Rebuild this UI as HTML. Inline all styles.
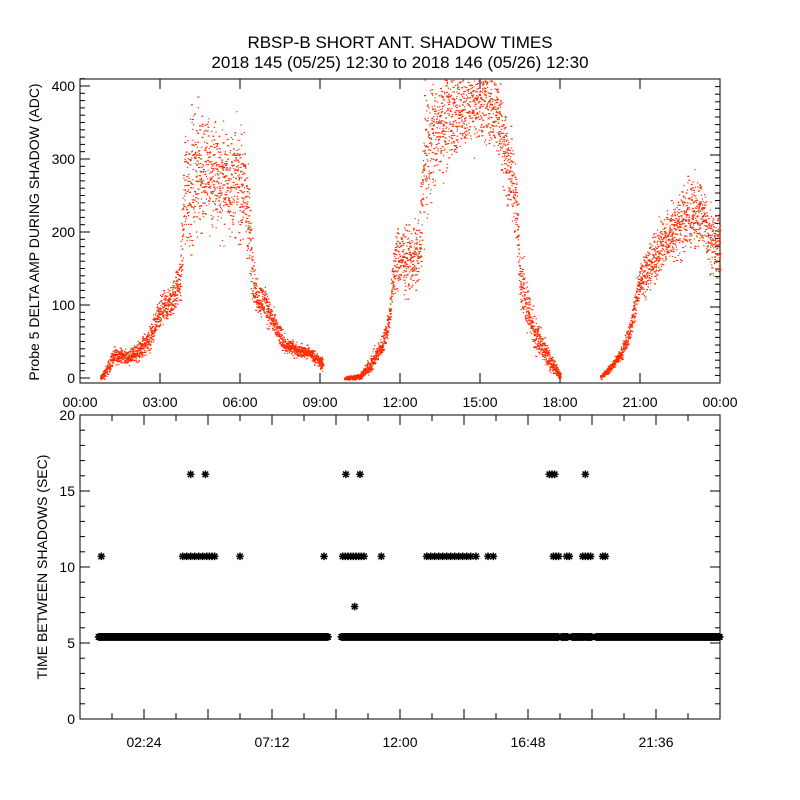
<!DOCTYPE html>
<html><head><meta charset="utf-8"><style>
body{margin:0;background:#fff}
svg{display:block;font-family:"Liberation Sans",sans-serif}
text{fill:#000}
</style></head><body>
<svg id="chart" width="800" height="800" viewBox="0 0 800 800">
<rect width="800" height="800" fill="#fff"/>
<text x="400" y="48" font-size="17" text-anchor="middle">RBSP-B SHORT ANT. SHADOW TIMES</text>
<text x="400" y="68" font-size="17" text-anchor="middle">2018 145 (05/25) 12:30 to 2018 146 (05/26) 12:30</text>
<g id="topPanel"></g>
<g id="botPanel"></g>
</svg>
<script>
// ---- top panel data (hours, ADC center, ADC spread) ----
const seg1Hours=[0.75,1.0,1.2,1.5,1.8,2.2,2.6,3.0,3.4,3.75,3.9,4.3,4.7,5.1,5.5,5.9,6.2,6.4,6.6,6.9,7.3,7.7,8.2,8.6,9.1];
const seg1Center=[0,12,28,32,28,38,55,90,105,135,260,280,285,275,270,270,250,170,110,105,70,45,38,35,18];
const seg1Spread=[3,6,8,6,6,10,12,15,15,20,60,60,60,55,45,50,60,40,15,15,12,8,6,6,6];
const seg2Hours=[9.9,10.5,10.9,11.3,11.55,11.8,12.4,12.7,12.9,13.2,13.8,14.4,15.0,15.6,16.0,16.3,16.5,16.7,17.0,17.4,17.8,18.0];
const seg2Center=[0,3,20,45,75,160,165,170,300,340,360,375,385,370,300,250,140,110,65,35,12,3];
const seg2Spread=[2,3,8,10,12,30,30,35,60,55,45,45,40,40,40,40,25,25,18,12,6,2];
const seg3Hours=[19.5,19.9,20.3,20.6,20.75,21.0,21.4,21.8,22.3,22.8,23.3,23.6,24.0];
const seg3Center=[2,15,35,65,90,140,155,185,205,225,225,190,185];
const seg3Spread=[2,4,6,10,15,20,20,25,30,35,30,30,30];
const topXTicks=["00:00","03:00","06:00","09:00","12:00","15:00","18:00","21:00","00:00"];
const topYTicks=[0,100,200,300,400];
// ---- bottom panel data ----
const baseValue=5.4;
const baseSegments=[[0.7,9.3],[9.8,17.95],[18.05,18.3],[18.45,18.9],[18.95,19.2],[19.35,24]];
const mid10Hours=[0.8,3.85,4.0,4.15,4.3,4.45,4.6,4.75,4.85,4.95,5.05,6.0,9.15,9.85,9.95,10.05,10.15,10.25,10.35,10.45,10.55,10.65,11.3,13.0,13.15,13.3,13.45,13.6,13.75,13.9,14.05,14.2,14.35,14.5,14.65,14.85,15.3,15.5,17.75,17.85,17.95,18.25,18.35,18.85,18.95,19.05,19.15,19.6,19.7];
const mid10Value=10.7;
const high16Hours=[4.15,4.7,9.97,10.5,17.6,17.7,17.8,18.95];
const high16Value=16.1;
const odd7Hours=[10.3];
const odd7Value=7.4;
const botXTicks=["02:24","07:12","12:00","16:48","21:36"];
const botYTicks=[0,5,10,15,20];

const NS="http://www.w3.org/2000/svg";
function mk(tag,attrs,parent){const e=document.createElementNS(NS,tag);for(const k in attrs)e.setAttribute(k,attrs[k]);parent.appendChild(e);return e;}
const L=80,R=720,T1=79,B1=383,T2=415,B2=719;
const xH=h=>L+h*(R-L)/24;
const yA=v=>378-v*0.73;
const yS=v=>B2-v*(B2-T2)/20;
const topG=document.getElementById('topPanel'),botG=document.getElementById('botPanel');

// ---- top panel axes ----
let f=mk('rect',{x:L,y:T1,width:R-L,height:B1-T1,fill:'none',stroke:'#000','stroke-width':1},topG);


let tk=mk('g',{stroke:'#000','stroke-width':1},topG);


for(let v=0;v<=410;v+=10){const y=yA(v);const len=v%100===0?10:5;mk('line',{x1:L,x2:L+len,y1:y,y2:y},tk);}
for(let i=0;i<=40;i++){const y=B1-i*7.6;if(y<T1)break;const len=(i%20===10)?10:5;mk('line',{x1:R,x2:R-len,y1:y,y2:y},tk);}
topXTicks.forEach((lab,i)=>{const x=xH(i*3);mk('line',{x1:x,x2:x,y1:B1,y2:B1-10},tk);mk('line',{x1:x,x2:x,y1:T1,y2:T1+10},tk);
 const t=mk('text',{x:x,y:407,'font-size':14,'text-anchor':'middle'},topG);t.textContent=lab;
 
 });
topYTicks.forEach(v=>{const t=mk('text',{x:75,y:yA(v)+5,'font-size':14,'text-anchor':'end'},topG);t.textContent=v;
 
 });
let yt=mk('text',{x:0,y:0,'font-size':14,'text-anchor':'middle',transform:'translate(39,232) rotate(-90)'},topG);
yt.textContent='Probe 5 DELTA AMP DURING SHADOW (ADC)';



// ---- top scatter dots ----
let seed=12345;
function jit(){seed=(seed*1103515245+12345)%2147483648;return seed/2147483648;}
const dots=mk('g',{fill:'#ff2a00'},topG);


function interp(hs,vs,h){for(let i=0;i<hs.length-1;i++){if(h>=hs[i]&&h<=hs[i+1]){const t=(h-hs[i])/(hs[i+1]-hs[i]);return vs[i]+t*(vs[i+1]-vs[i]);}}return vs[vs.length-1];}
[[seg1Hours,seg1Center,seg1Spread],[seg2Hours,seg2Center,seg2Spread],[seg3Hours,seg3Center,seg3Spread]].forEach(([hs,cs,ss])=>{
 for(let h=hs[0];h<=hs[hs.length-1];h+=0.0035){
  const c=interp(hs,cs,h),s=interp(hs,ss,h);
  const v=c+(jit()+jit()+jit()-1.5)*1.4*s;
  if(v>409||v<-3)continue;
  mk('rect',{x:xH(h).toFixed(1),y:yA(v).toFixed(1),width:jit()<0.4?2:1.2,height:1.2},dots);
 }});

// ---- bottom panel axes ----
f=mk('rect',{x:L,y:T2,width:R-L,height:B2-T2,fill:'none',stroke:'#000','stroke-width':1},botG);


tk=mk('g',{stroke:'#000','stroke-width':1},botG);


for(let v=0;v<=20;v++){const y=yS(v);const len=v%5===0?10:5;mk('line',{x1:L,x2:L+len,y1:y,y2:y},tk);mk('line',{x1:R,x2:R-len,y1:y,y2:y},tk);}
for(let i=0;i<=20;i++){const x=xH(i*1.2);const len=i%2===0?10:6;mk('line',{x1:x,x2:x,y1:B2,y2:B2-len},tk);mk('line',{x1:x,x2:x,y1:T2,y2:T2+len},tk);}
botXTicks.forEach((lab,i)=>{const t=mk('text',{x:xH(2.4+i*4.8),y:747,'font-size':14,'text-anchor':'middle'},botG);t.textContent=lab;
 
 });
botYTicks.forEach(v=>{const t=mk('text',{x:75,y:yS(v)+5,'font-size':14,'text-anchor':'end'},botG);t.textContent=v;
 
 });
yt=mk('text',{x:0,y:0,'font-size':14,'text-anchor':'middle',transform:'translate(47,567) rotate(-90)'},botG);
yt.textContent='TIME BETWEEN SHADOWS (SEC)';



// ---- asterisks ----
const ast=mk('g',{stroke:'#000','stroke-width':1.5,fill:'none'},botG);


function star(h,v){const x=xH(h),y=yS(v),r=3.8,d=2.8;
 mk('path',{d:`M${x-r} ${y}H${x+r}M${x} ${y-r}V${y+r}M${x-d} ${y-d}L${x+d} ${y+d}M${x-d} ${y+d}L${x+d} ${y-d}`},ast);}
baseSegments.forEach(([a,b])=>{for(let h=a;h<=b;h+=0.02)star(h,baseValue);});
mid10Hours.forEach(h=>star(h,mid10Value));
high16Hours.forEach(h=>star(h,high16Value));
odd7Hours.forEach(h=>star(h,odd7Value));
</script>
</body></html>
